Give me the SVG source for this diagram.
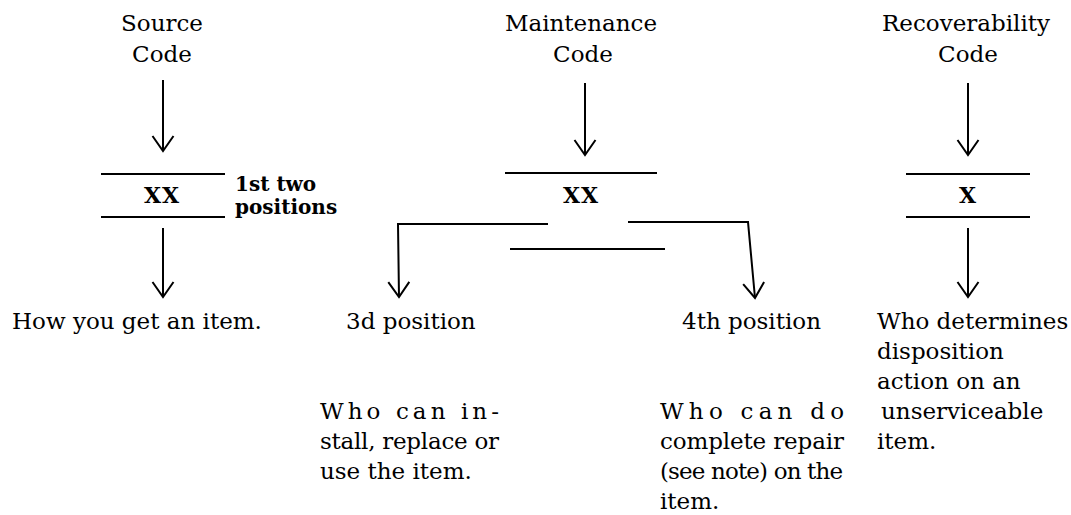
<svg xmlns="http://www.w3.org/2000/svg" width="1071" height="515" viewBox="0 0 1071 515">
<defs>
<marker id="chev" markerUnits="userSpaceOnUse" orient="auto" refX="0" refY="0" overflow="visible">
<path d="M-15,-10.5 L0,0 L-15,10.5" fill="none" stroke="#000" stroke-width="2"/>
</marker>
</defs>
<style>
text{font-family:"DejaVu Serif","Liberation Serif",serif;fill:#000}
.t{font-size:23px}
.c{text-anchor:middle}
.b{font-weight:bold;font-size:20px}
.x{font-weight:bold;font-size:22px;text-anchor:middle;letter-spacing:1px}
.bar{stroke:#000;stroke-width:2;fill:none}
.arr{stroke:#000;stroke-width:2;fill:none;marker-end:url(#chev)}
</style>
<rect width="1071" height="515" fill="#fff"/>
<g id="source">
<text class="t c" x="162" y="31">Source</text>
<text class="t c" x="162" y="62">Code</text>
<line class="bar" x1="101" y1="174" x2="225" y2="174"/>
<text class="x" x="162" y="203">XX</text>
<line class="bar" x1="101" y1="217" x2="225" y2="217"/>
<text class="b" x="235" y="191">1st two</text>
<text class="b" x="235" y="214">positions</text>
<text class="t" x="12" y="329">How you get an item.</text>
</g>
<g id="maintenance">
<text class="t c" x="581" y="31">Maintenance</text>
<text class="t c" x="583" y="62">Code</text>
<line class="bar" x1="505" y1="173" x2="657" y2="173"/>
<text class="x" x="581" y="203">XX</text>
<line class="bar" x1="510" y1="249" x2="665" y2="249"/>
</g>
<g id="third-position">
<text class="t" x="346" y="329">3d position</text>
<text class="t" x="320" y="419" textLength="179" lengthAdjust="spacing">Who can in-</text>
<text class="t" x="320" y="449" textLength="179" lengthAdjust="spacing">stall, replace or</text>
<text class="t" x="320" y="479">use the item.</text>
</g>
<g id="fourth-position">
<text class="t" x="682" y="329">4th position</text>
<text class="t" x="660" y="419" textLength="184" lengthAdjust="spacing">Who can do</text>
<text class="t" x="660" y="449" textLength="184" lengthAdjust="spacing">complete repair</text>
<text class="t" x="660" y="479" textLength="183" lengthAdjust="spacing">(see note) on the</text>
<text class="t" x="660" y="509">item.</text>
</g>
<g id="recoverability">
<text class="t c" x="966" y="31">Recoverability</text>
<text class="t c" x="968" y="62">Code</text>
<line class="bar" x1="906" y1="174" x2="1030" y2="174"/>
<text class="x" x="968" y="203">X</text>
<line class="bar" x1="906" y1="217" x2="1030" y2="217"/>
<text class="t" x="877" y="329">Who determines</text>
<text class="t" x="877" y="359">disposition</text>
<text class="t" x="877" y="389">action on an</text>
<text class="t" x="881" y="419">unserviceable</text>
<text class="t" x="877" y="449">item.</text>
</g>
<g id="connectors">
<line class="arr" x1="163" y1="80" x2="163" y2="151"/>
<line class="arr" x1="163" y1="228" x2="163" y2="297"/>
<line class="arr" x1="585" y1="83" x2="585" y2="155"/>
<polyline class="arr" points="548,224 398,224 399,297"/>
<polyline class="arr" points="628,222 748,222 755,298"/>
<line class="arr" x1="968" y1="83" x2="968" y2="155"/>
<line class="arr" x1="968" y1="228" x2="968" y2="297"/>
</g>
</svg>
